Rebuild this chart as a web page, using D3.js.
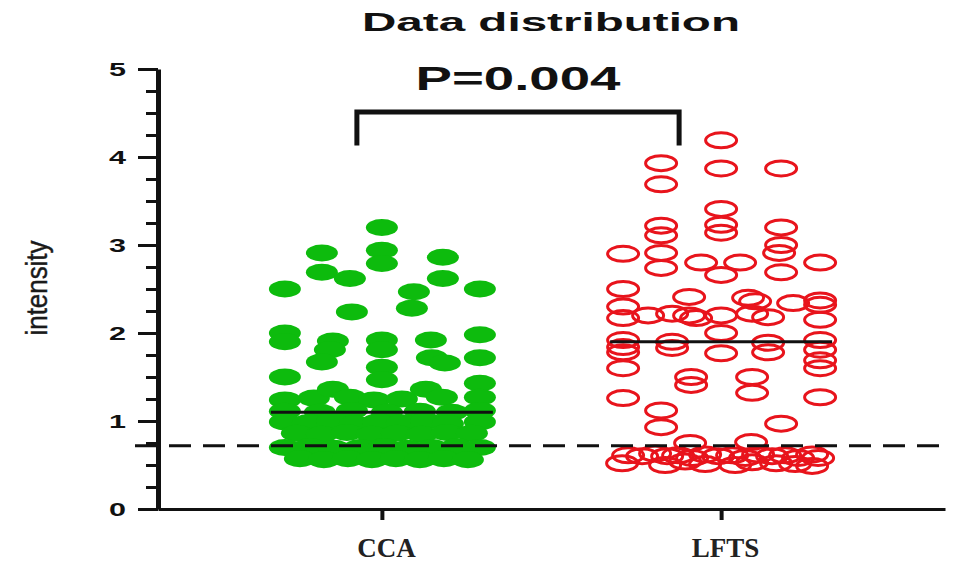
<!DOCTYPE html>
<html><head><meta charset="utf-8">
<script src="https://cdn.jsdelivr.net/npm/d3@7"></script>
<style>body{margin:0;background:#fff}</style>
</head><body>
<svg id="c" width="953" height="564"></svg>
<script>
// ---------- data ----------
const categories = ["CCA", "LFTS"];
const titleText = "Data distribution";
const yLabelText = "intensity";
const yTicks = [0, 1, 2, 3, 4, 5];
const groupMeans = [1.10, 1.90];
const cutoff = 0.72;
const pLabel = "P=0.004";
const bracketLevels = [4.51, 4.13];      // top bar, end of legs
const bracketOffsets = [-0.25, -0.42];    // jitter units from each category

// [jitter (-1..1 within group), value]
const ccaPoints = [
  [0, 3.20],
  [-0.60, 2.91], [0, 2.94], [0, 2.79], [-0.60, 2.69], [-0.32, 2.62], [0.61, 2.86], [0.61, 2.62],
  [-0.97, 2.50], [0.98, 2.50], [0.32, 2.47], [0.30, 2.28], [-0.30, 2.24],
  [-0.97, 2.00], [-0.97, 1.90], [-0.49, 1.91], [-0.52, 1.81], [-0.60, 1.67], [0, 1.92], [0, 1.81],
  [0.49, 1.92], [0.98, 1.98], [0.50, 1.72], [0.63, 1.66], [0.98, 1.72], [0, 1.61], [0, 1.47],
  [-0.97, 1.50], [0.98, 1.43],
  [-0.97, 1.24], [-0.68, 1.26], [-0.49, 1.36], [-0.32, 1.27], [-0.08, 1.24], [0.20, 1.25], [0.44, 1.36], [0.60, 1.27], [0.98, 1.27],
  [-0.97, 1.11], [-0.62, 1.10], [-0.30, 1.12], [0.05, 1.10], [0.38, 1.11], [0.70, 1.10], [0.98, 1.12],
  [-0.97, 0.99], [-0.74, 0.98], [-0.50, 1.00], [-0.27, 0.97], [-0.04, 0.99], [0.20, 0.98], [0.44, 1.00], [0.66, 0.97], [0.98, 0.99],
  [-0.85, 0.86], [-0.60, 0.85], [-0.35, 0.87], [-0.10, 0.85], [0.15, 0.86], [0.40, 0.85], [0.65, 0.87], [0.90, 0.86],
  [-0.97, 0.70], [-0.72, 0.71], [-0.48, 0.69], [-0.22, 0.70], [0.02, 0.71], [0.26, 0.69], [0.50, 0.70], [0.75, 0.71], [0.98, 0.70],
  [-0.82, 0.57], [-0.58, 0.56], [-0.34, 0.57], [-0.10, 0.56], [0.14, 0.57], [0.38, 0.56], [0.62, 0.57], [0.86, 0.56]
];
const lftsPoints = [
  [0, 4.19], [-0.60, 3.93], [0, 3.87], [0.60, 3.87], [-0.60, 3.69], [0, 3.41], [0, 3.23], [0, 3.14],
  [-0.60, 3.22], [-0.60, 3.11], [0.60, 3.20], [0.60, 3.00], [0.58, 2.91], [-0.60, 2.91], [-0.98, 2.90],
  [-0.20, 2.80], [0.19, 2.80], [0.99, 2.80], [-0.60, 2.74], [0, 2.66], [0.60, 2.69], [-0.98, 2.50],
  [-0.32, 2.41], [0.27, 2.40], [0.34, 2.36], [0.72, 2.34], [0.99, 2.37], [0.99, 2.32], [-0.98, 2.30],
  [-0.73, 2.20], [-0.98, 2.17], [-0.49, 2.22], [-0.32, 2.20], [-0.25, 2.17], [0, 2.20], [0.31, 2.22],
  [0.47, 2.18], [0.99, 2.15], [0, 2.00],
  [-0.98, 1.92], [-0.98, 1.84], [-0.98, 1.78], [-0.49, 1.90], [-0.49, 1.83], [0, 1.77], [0.47, 1.89],
  [0.47, 1.78], [0.99, 1.92], [0.99, 1.81], [0.99, 1.69], [-0.98, 1.60], [0.99, 1.60],
  [-0.30, 1.50], [-0.30, 1.41], [0.31, 1.50], [0.31, 1.32], [-0.98, 1.26], [0.99, 1.27],
  [-0.60, 1.12], [-0.60, 0.93], [0.60, 0.97], [-0.31, 0.75], [0.30, 0.76],
  [-0.93, 0.61], [-0.79, 0.60], [-0.66, 0.63], [-0.54, 0.60], [-0.43, 0.61], [-0.29, 0.58], [-0.16, 0.62], [-0.03, 0.60],
  [0.11, 0.61], [0.24, 0.58], [0.37, 0.62], [0.51, 0.60], [0.64, 0.61], [0.77, 0.58], [0.91, 0.62], [0.97, 0.58],
  [-0.99, 0.52], [-0.56, 0.50], [-0.36, 0.54], [-0.16, 0.51], [0.14, 0.50], [0.31, 0.53], [0.55, 0.52], [0.74, 0.51], [0.91, 0.49]
];

// ---------- chart ----------
const svg = d3.select("#c");
svg.append("rect").attr("width", 953).attr("height", 564).attr("fill", "#fff");

const x = d3.scalePoint().domain(categories).range([158, 945]).padding(0.66);
const y = d3.scaleLinear().domain([0, 5]).range([509, 69]);
const jit = d3.scaleLinear().domain([-1, 1]).range([-100, 100]);

const GREEN = "#0dbb0d", RED = "#e8141c";

// points
svg.append("g").selectAll("ellipse").data(ccaPoints).join("ellipse")
  .attr("cx", d => x("CCA") + jit(d[0])).attr("cy", d => y(d[1]))
  .attr("rx", 16).attr("ry", 8.5).attr("fill", GREEN);

svg.append("g").selectAll("ellipse").data(lftsPoints).join("ellipse")
  .attr("cx", d => x("LFTS") + jit(d[0])).attr("cy", d => y(d[1]))
  .attr("rx", 15.5).attr("ry", 7.5).attr("fill", "none")
  .attr("stroke", RED).attr("stroke-width", 3);

// mean lines
svg.append("g").selectAll("line").data(groupMeans).join("line")
  .attr("x1", (d, i) => x(categories[i]) + jit(-1.11))
  .attr("x2", (d, i) => x(categories[i]) + jit(1.11))
  .attr("y1", d => y(d)).attr("y2", d => y(d))
  .attr("stroke", "#111").attr("stroke-width", 3);

// cutoff dashed line
svg.append("line")
  .attr("x1", 135).attr("x2", 945).attr("y1", y(cutoff)).attr("y2", y(cutoff))
  .attr("stroke", "#111").attr("stroke-width", 3).attr("stroke-dasharray", "22,12");

// minor y ticks
const yMinor = d3.range(0, 5.001, 0.25).filter(v => Math.abs(v - Math.round(v)) > 1e-6);
svg.append("g").attr("transform", "translate(158,0)")
  .call(d3.axisLeft(y).tickValues(yMinor).tickSize(12).tickSizeOuter(0).tickFormat(""))
  .call(g => g.select(".domain").remove())
  .call(g => g.selectAll("line").attr("stroke", "#111").attr("stroke-width", 3));

// major y axis
svg.append("g").attr("transform", "translate(158,0)")
  .call(d3.axisLeft(y).tickValues(yTicks).tickSize(20).tickSizeOuter(0).tickPadding(12).tickFormat(d3.format("d")))
  .call(g => g.select(".domain").attr("stroke", "#111").attr("stroke-width", 5))
  .call(g => g.selectAll(".tick line").attr("stroke", "#111").attr("stroke-width", 3))
  .call(g => g.selectAll(".tick text")
    .attr("font-family", "'Liberation Sans', Arial, sans-serif").attr("font-weight", "bold")
    .attr("font-size", 19).attr("fill", "#111")
    .attr("textLength", 17).attr("lengthAdjust", "spacingAndGlyphs"));

// x axis
svg.append("g").attr("transform", "translate(0,509)")
  .call(d3.axisBottom(x).tickSize(11).tickSizeOuter(0))
  .call(g => g.select(".domain").attr("stroke", "#111").attr("stroke-width", 3))
  .call(g => g.selectAll(".tick line").attr("stroke", "#111").attr("stroke-width", 4))
  .call(g => g.selectAll(".tick text")
    .attr("y", 48).attr("dy", 0).attr("dx", 4)
    .attr("font-family", "'Liberation Serif', 'Times New Roman', serif").attr("font-weight", "bold")
    .attr("font-size", 27).attr("fill", "#222"));

// y label
svg.append("text")
  .attr("transform", "translate(47,288) rotate(-90)")
  .attr("text-anchor", "middle")
  .attr("font-family", "'Liberation Sans Narrow', 'Arial Narrow', 'Liberation Sans', sans-serif")
  .attr("font-size", 29).attr("fill", "#1a1a1a")
  .attr("stroke", "#1a1a1a").attr("stroke-width", 0.4)
  .attr("textLength", 95).attr("lengthAdjust", "spacingAndGlyphs")
  .text(yLabelText);

// title
svg.append("text")
  .attr("x", 551).attr("y", 31).attr("text-anchor", "middle")
  .attr("font-family", "'Liberation Sans', Arial, sans-serif").attr("font-weight", "bold")
  .attr("font-size", 26).attr("fill", "#111")
  .attr("textLength", 378).attr("lengthAdjust", "spacingAndGlyphs")
  .text(titleText);

// significance bracket
const bx1 = x(categories[0]) + jit(bracketOffsets[0]);
const bx2 = x(categories[1]) + jit(bracketOffsets[1]);
svg.append("path")
  .attr("d", `M${bx1},${y(bracketLevels[1])}V${y(bracketLevels[0])}H${bx2}V${y(bracketLevels[1])}`)
  .attr("fill", "none").attr("stroke", "#111").attr("stroke-width", 5);

svg.append("text")
  .attr("x", (bx1 + bx2) / 2).attr("y", 90).attr("text-anchor", "middle")
  .attr("font-family", "'Liberation Sans', Arial, sans-serif").attr("font-weight", "bold")
  .attr("font-size", 34).attr("fill", "#111")
  .attr("textLength", 205).attr("lengthAdjust", "spacingAndGlyphs")
  .text(pLabel);
</script>
</body></html>
